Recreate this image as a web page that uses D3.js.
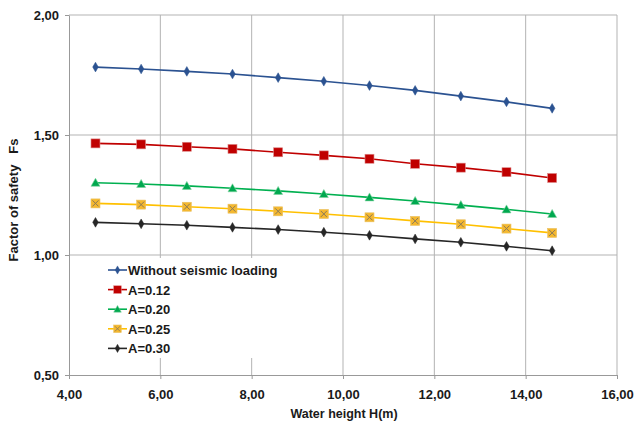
<html>
<script src="https://d3js.org/d3.v7.min.js"></script>
<style>
  body { margin: 0; background: #fff; }
  text { font-family: Arial, "Liberation Sans", sans-serif; font-weight: bold; fill: #1a1a1a; }
</style>
<body>
<svg width="634" height="426" id="chart"></svg>
<script>
// water height H(m)
var heights = [4.58, 5.58, 6.58, 7.58, 8.58, 9.58, 10.58, 11.58, 12.58, 13.58, 14.58];

var noSeismic = [1.783, 1.775, 1.765, 1.754, 1.739, 1.724, 1.706, 1.686, 1.662, 1.638, 1.611];
var a012 = [1.465, 1.461, 1.451, 1.442, 1.428, 1.415, 1.401, 1.380, 1.364, 1.345, 1.321];
var a020 = [1.301, 1.296, 1.288, 1.278, 1.267, 1.254, 1.240, 1.225, 1.208, 1.190, 1.171];
var a025 = [1.215, 1.210, 1.201, 1.193, 1.182, 1.171, 1.157, 1.142, 1.128, 1.110, 1.092];
var a030 = [1.136, 1.130, 1.124, 1.115, 1.106, 1.095, 1.082, 1.067, 1.053, 1.036, 1.018];

var seriesNames = ["Without seismic loading", "A=0.12", "A=0.20", "A=0.25", "A=0.30"];
var xTicks = [4, 6, 8, 10, 12, 14, 16];
var yTicks = [0.5, 1.0, 1.5, 2.0];

var styles = [
  { line: "#2b5291", fill: "#2b5291", shape: "diamond", size: 7 },
  { line: "#c00000", fill: "#c00000", shape: "square", size: 9 },
  { line: "#00b050", fill: "#00a84f", shape: "triangle", size: 9 },
  { line: "#ffc000", fill: "#f5b82e", shape: "xsquare", size: 9 },
  { line: "#262626", fill: "#262626", shape: "diamond", size: 7 }
];
var allSeries = [noSeismic, a012, a020, a025, a030];

var svg = d3.select("#chart");
var pLeft = 69, pRight = 617, pTop = 15, pBottom = 375;

var x = d3.scaleLinear().domain([4, 16]).range([pLeft, pRight]);
var y = d3.scaleLinear().domain([0.5, 2.0]).range([pBottom, pTop]);
var fmt = function (d) { return d3.format(".2f")(d).replace(".", ","); };

// grid
var grid = svg.append("g");
grid.selectAll(".vg").data(xTicks.slice(1)).enter().append("line")
  .attr("x1", function (d) { return x(d); }).attr("x2", function (d) { return x(d); })
  .attr("y1", pTop).attr("y2", pBottom)
  .attr("stroke", "#b3b3b3").attr("stroke-width", 1);
grid.selectAll(".hg").data(yTicks.slice(1)).enter().append("line")
  .attr("x1", pLeft).attr("x2", pRight)
  .attr("y1", function (d) { return y(d); }).attr("y2", function (d) { return y(d); })
  .attr("stroke", "#b3b3b3").attr("stroke-width", 1);

// axes
var xAxis = svg.append("g").attr("transform", "translate(0," + pBottom + ")")
  .call(d3.axisBottom(x).tickValues(xTicks).tickFormat(fmt).tickSize(4).tickSizeOuter(0));
var yAxis = svg.append("g").attr("transform", "translate(" + pLeft + ",0)")
  .call(d3.axisLeft(y).tickValues(yTicks).tickFormat(fmt).tickSize(4).tickSizeOuter(0));
[xAxis, yAxis].forEach(function (a) {
  a.select(".domain").attr("stroke", "#999");
  a.selectAll(".tick line").attr("stroke", "#999");
  a.selectAll("text").attr("font-size", 13).attr("font-family", "Arial, 'Liberation Sans', sans-serif")
    .attr("font-weight", "bold").attr("fill", "#1a1a1a");
});
xAxis.selectAll("text").attr("dy", "0").attr("y", 24);
yAxis.selectAll("text").attr("x", -10);

// series
function drawMarker(g, st) {
  var s = st.size;
  if (st.shape === "diamond") {
    g.append("path").attr("d", d3.symbol(d3.symbolDiamond, s * s * 0.55)())
      .attr("fill", st.fill).attr("stroke", st.fill).attr("stroke-width", 0.5);
  } else if (st.shape === "square") {
    g.append("rect").attr("x", -s / 2).attr("y", -s / 2).attr("width", s).attr("height", s)
      .attr("fill", st.fill).attr("stroke", "#d88").attr("stroke-width", 0.6);
  } else if (st.shape === "triangle") {
    g.append("path").attr("d", "M0," + (-s / 2) + "L" + (s / 2) + "," + (s / 2 - 1) + "L" + (-s / 2) + "," + (s / 2 - 1) + "Z")
      .attr("fill", st.fill).attr("stroke", "#7fd3a0").attr("stroke-width", 0.6);
  } else {
    g.append("rect").attr("x", -s / 2).attr("y", -s / 2).attr("width", s).attr("height", s)
      .attr("fill", st.fill).attr("stroke", "#e9c060").attr("stroke-width", 0.6);
    var k = s / 2 - 1.5;
    g.append("path").attr("d", "M" + (-k) + "," + (-k) + "L" + k + "," + k + "M" + k + "," + (-k) + "L" + (-k) + "," + k)
      .attr("stroke", "#8a7a5a").attr("stroke-width", 1);
  }
}

var line = d3.line().x(function (d, i) { return x(heights[i]); }).y(function (d) { return y(d); });
allSeries.forEach(function (vals, si) {
  var st = styles[si];
  var g = svg.append("g");
  g.append("path").datum(vals).attr("d", line).attr("fill", "none")
    .attr("stroke", st.line).attr("stroke-width", 1.6);
  g.selectAll(".m").data(vals).enter().append("g")
    .attr("transform", function (d, i) { return "translate(" + x(heights[i]) + "," + y(d) + ")"; })
    .each(function () { drawMarker(d3.select(this), st); });
});

// legend
var lg = svg.append("g").attr("transform", "translate(100,258)");
lg.append("rect").attr("x", 0).attr("y", 0).attr("width", 185).attr("height", 100).attr("fill", "#fff");
seriesNames.forEach(function (name, i) {
  var st = styles[i];
  var row = lg.append("g").attr("transform", "translate(0," + (12 + i * 19.6) + ")");
  row.append("line").attr("x1", 8).attr("x2", 27).attr("y1", 0).attr("y2", 0)
    .attr("stroke", st.line).attr("stroke-width", 1.6);
  var m = row.append("g").attr("transform", "translate(17.5,0) scale(0.85)");
  drawMarker(m, st);
  row.append("text").attr("x", 28).attr("y", 5).attr("font-size", 13).text(name);
});

// axis titles
svg.append("text").attr("x", 344).attr("y", 418).attr("text-anchor", "middle")
  .attr("font-size", 12.5).text("Water height H(m)");
svg.append("text").attr("transform", "translate(18,200) rotate(-90)").attr("text-anchor", "middle")
  .attr("font-size", 13).attr("xml:space", "preserve").style("white-space", "pre").text("Factor of safety   Fs");
</script>
</body>
</html>
